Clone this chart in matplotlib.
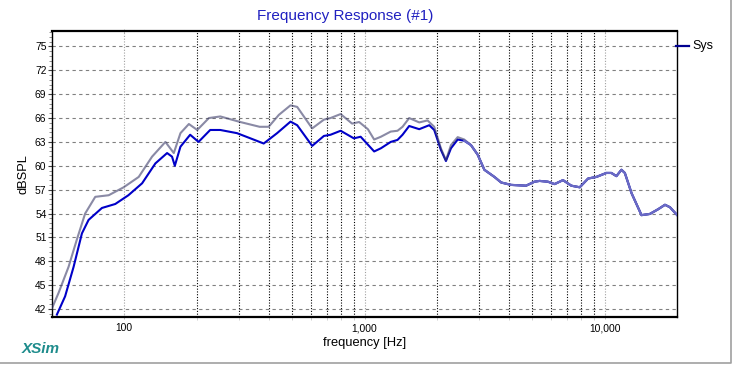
"""
XSim frequency response, two traces (Sys + reference) on a log axis.
"""
import numpy as np
import matplotlib
matplotlib.use("Agg")
import matplotlib.pyplot as plt
import matplotlib.ticker as ticker
from matplotlib.lines import Line2D

# ---- data (Hz, dB SPL) ----
freq_lo_sys = [52.4, 56.7, 61.5, 66.6, 71.0, 80.7, 91.7, 104, 118.6, 134.7,
               150.7, 158, 162.3, 171.3, 188, 203.7, 227.8, 251, 294.6, 335,
               380.5, 432.6, 492, 524.5, 605.6, 677.6, 722, 795.5, 903, 963.8,
               1097, 1170, 1286, 1372, 1440, 1535, 1690, 1860, 1951, 2080,
               2183, 2291, 2443, 2603]
spl_lo_sys = [41.3, 43.6, 47.3, 51.5, 53.2, 54.7, 55.2, 56.3, 57.8, 60.3,
              61.6, 61.15, 60.0, 62.4, 63.9, 63.0, 64.5, 64.5, 64.1, 63.45,
              62.8, 64.1, 65.55, 65.1, 62.5, 63.75, 63.9, 64.4, 63.45, 63.65,
              61.8, 62.2, 63.0, 63.25, 63.9, 65.0, 64.6, 65.1, 64.5, 62.0,
              60.6, 62.2, 63.3, 63.15]

freq_lo_ref = [50, 53.2, 58.6, 63.4, 68.7, 75.7, 86.1, 99.4, 114.8, 130.5,
               148.3, 160.7, 171.3, 185.7, 201.2, 225, 251, 304, 366, 399,
               440, 492, 524.5, 605.6, 677.6, 722, 795.5, 888, 950, 1033,
               1097, 1170, 1286, 1372, 1440, 1535, 1690, 1830, 1951, 2080,
               2183, 2291, 2443, 2603]
spl_lo_ref = [42.1, 44.0, 47.3, 50.7, 54.0, 56.1, 56.3, 57.3, 58.6, 61.15,
              63.0, 61.6, 64.1, 65.25, 64.5, 66.0, 66.2, 65.5, 64.9, 64.9,
              66.4, 67.6, 67.4, 64.7, 65.8, 66.0, 66.5, 65.3, 65.5, 64.6,
              63.3, 63.65, 64.3, 64.4, 64.9, 66.0, 65.45, 65.7, 64.9, 62.2,
              60.7, 62.6, 63.6, 63.3]

# above ~2.7 kHz both traces coincide
freq_hi = [2775, 2959, 3155, 3475, 3708, 4078, 4706, 5100, 5355, 5802,
           6186, 6702, 7262, 7870, 8531, 9233, 10160, 10660, 11190, 11740,
           12130, 12940, 14230, 15420, 16710, 17820, 18680, 20040]
spl_hi = [62.6, 61.4, 59.5, 58.6, 57.9, 57.6, 57.5, 58.0, 58.1, 58.0,
          57.7, 58.2, 57.5, 57.3, 58.4, 58.6, 59.1, 59.1, 58.7, 59.5,
          59.1, 56.55, 53.8, 53.95, 54.55, 55.1, 54.8, 53.8]

y_ticks = [42, 45, 48, 51, 54, 57, 60, 63, 66, 69, 72, 75]
x_ticks = [100, 1000, 10000]
x_labels = ["100", "1,000", "10,000"]

BLUE = "#0000c8"
GREY = "#3c3c6a"
MIX = "#6a6ac6"

plt.rcParams["font.family"] = ["Liberation Sans", "DejaVu Sans"]

fig = plt.figure(figsize=(7.33, 3.65), dpi=100)
fig.patch.set_facecolor("white")
ax = fig.add_axes([52 / 733, 1 - 317 / 365, 625 / 733, 286.5 / 365])

f_sys = np.array(freq_lo_sys + freq_hi)
s_sys = np.array(spl_lo_sys + spl_hi)
f_ref = np.array(freq_lo_ref + freq_hi)
s_ref = np.array(spl_lo_ref + spl_hi)

ax.plot(f_sys, s_sys, color=BLUE, lw=1.5, zorder=3)
ax.plot(f_ref, s_ref, color=GREY, lw=1.5, alpha=0.6, zorder=4)
# where the two traces sit on top of each other the screen shows a blend
ax.plot(freq_lo_sys[-1:] + freq_hi, spl_lo_sys[-1:] + spl_hi, color=MIX,
        lw=1.6, zorder=5)

ax.set_xscale("log")
ax.set_xlim(50, 20000)
ax.set_ylim(41, 77)

ax.xaxis.set_major_locator(ticker.FixedLocator(x_ticks))
ax.xaxis.set_major_formatter(ticker.FixedFormatter(x_labels))
minor_x = [m * 10 ** e for e in (2, 3) for m in range(2, 10)]
ax.xaxis.set_minor_locator(ticker.FixedLocator(minor_x))
ax.xaxis.set_minor_formatter(ticker.NullFormatter())
ax.yaxis.set_major_locator(ticker.FixedLocator(y_ticks))
ax.yaxis.set_minor_locator(ticker.MultipleLocator(0.6))

ax.grid(True, which="major", axis="y", color="#808080", lw=0.8, ls=(0, (3, 3)))
ax.grid(True, which="minor", axis="x", color="black", lw=0.8, ls=(0, (1, 1.5)))
ax.grid(True, which="major", axis="x", color="#a0a0a0", lw=0.8, ls=(0, (1, 1.5)))

ax.tick_params(axis="y", which="major", length=3, width=0.8, labelsize=7.4,
               pad=1, colors="#404040", labelcolor="black")
ax.tick_params(axis="y", which="minor", length=2, width=0.6, colors="#808080")
ax.tick_params(axis="x", which="major", length=3, width=0.6, labelsize=7.4,
               colors="#b0b0b0", labelcolor="black", pad=3, top=True,
               direction="inout")
ax.tick_params(axis="x", which="minor", length=2, width=0.6, colors="#c8c8c8")

for side in ("top", "bottom"):
    ax.spines[side].set_linewidth(1.6)
for side in ("left", "right"):
    ax.spines[side].set_linewidth(1.0)

ax.set_xlabel("frequency [Hz]", fontsize=9.3, labelpad=3)
ax.set_ylabel("dBSPL", fontsize=9.3, labelpad=4)

fig.text(345 / 733, 1 - 16 / 365, "Frequency Response (#1)", color="#2020c0",
         fontsize=11, ha="center", va="center")
fig.text(22 / 733, 1 - 349 / 365, "XSim", color="#1e8c8c", fontsize=11,
         fontweight="bold", fontstyle="italic", ha="left", va="center")

# legend entry on the right
fig.add_artist(Line2D([676 / 733, 689 / 733], [1 - 46 / 365] * 2,
                      color="#000090", lw=1.6))
fig.text(692 / 733, 1 - 46 / 365, "Sys", fontsize=9, ha="left", va="center")

# window frame, bottom and right edges
fig.add_artist(Line2D([0, 731 / 733, 731 / 733], [2 / 365, 2 / 365, 1],
                      color="#a0a0a0", lw=1.2))

fig.savefig("out.png", dpi=100, facecolor="white")
